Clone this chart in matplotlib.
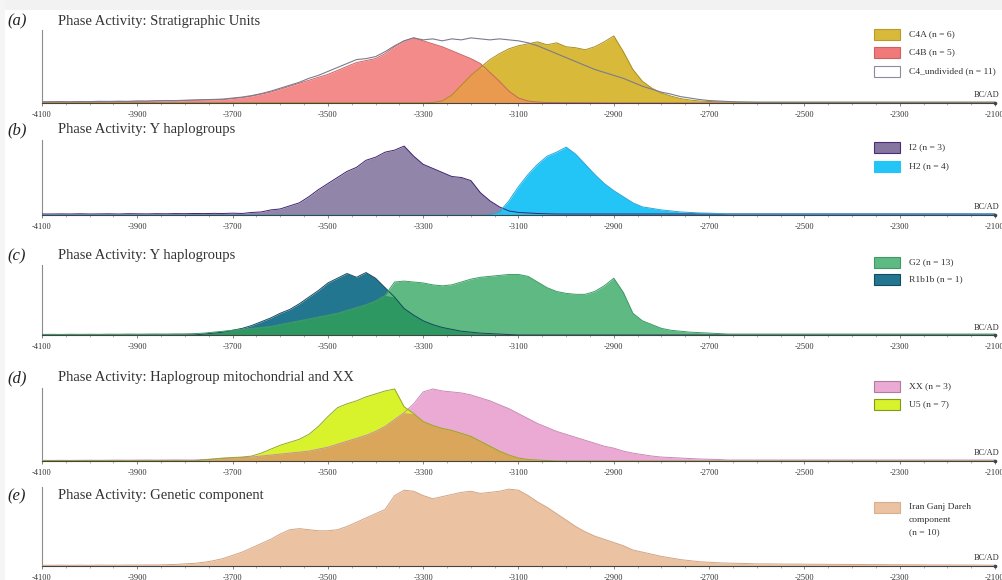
import numpy as np
import matplotlib
matplotlib.use("Agg")
import matplotlib.pyplot as plt
from matplotlib.patches import Rectangle
from matplotlib.ticker import MultipleLocator

plt.rcParams['font.family'] = ['Liberation Serif', 'DejaVu Serif']

# Calendar grid (BC negative), 20-year bins
START_YEAR = -4100
BIN = 20
N_BINS = 101
years = START_YEAR + BIN * np.arange(N_BINS)

tick_years = [-4100, -3900, -3700, -3500, -3300, -3100, -2900, -2700, -2500, -2300, -2100]
tick_labels = ['-4100', '-3900', '-3700', '-3500', '-3300', '-3100', '-2900', '-2700', '-2500', '-2300', '-2100']

# (a) Stratigraphic units
c4a = [0.2] * 41 + [0.5, 2, 8, 18, 28, 36, 44, 50, 55, 58,
                    60, 62, 59, 61, 57, 56, 54, 57, 62, 68,
                    52, 34, 22, 15, 10, 7, 4.5, 3, 2, 1.5,
                    1.2, 1.0] + [0.8] * 28
c4b = [1.0, 1.0, 1.2, 1.0, 1.3, 1.2, 1.5, 1.3, 1.6, 1.5,
       1.8, 1.7, 2.0, 2.2, 2.0, 2.5, 2.8, 3.0, 3.2, 3.5,
       4.5, 5.5, 7, 9, 11, 14, 17, 20, 23, 26,
       29, 33, 37, 41, 43, 45, 50, 57, 63, 66,
       63, 60, 57, 53, 49, 45, 40, 31, 22, 12,
       5, 2, 1, 0.5, 0.4, 0.3, 0.3, 0.2, 0.2, 0.1] + [0.0] * 41
c4_undivided = [1.2, 1.3, 1.4, 1.2, 1.5, 1.4, 1.7, 1.6, 1.8, 1.7,
                2.0, 2.0, 2.3, 2.5, 2.4, 2.8, 3.1, 3.4, 3.6, 4.0,
                5.0, 6.0, 7.5, 9.5, 12, 15, 18, 21, 25, 28,
                32, 36, 40, 44, 45, 47, 52, 58, 63, 66,
                64, 65, 63, 65, 64, 66, 65, 64, 65, 64,
                63, 61, 58, 54, 50, 46, 42, 38, 34, 31,
                28, 25, 21, 17, 14, 11, 9, 6.5, 5, 3.5,
                2.5, 2, 1.5, 1.2, 1.0] + [0.8] * 26

# (b) Y haplogroups I2 / H2
i2 = [1.0, 1.0, 1.1, 1.0, 1.2, 1.0, 1.1, 1.2, 1.0, 1.3,
      1.2, 1.1, 1.3, 1.2, 1.4, 1.3, 1.5, 1.4, 1.6, 1.5,
      1.8, 1.5, 2.5, 3, 5, 6, 9, 12, 18, 25,
      31, 37, 43, 47, 54, 57, 62, 64, 68, 58,
      50, 46, 42, 38, 37, 34, 22, 14, 8, 4,
      2.5, 2, 1.5, 1.2] + [1.0] * 47
h2 = [0.0] * 47 + [0.5, 3, 14, 28, 40, 50, 58, 62, 67, 60,
                   50, 40, 31, 24, 18, 12, 8, 6.5, 5, 4,
                   3, 2.5, 2, 1.8, 1.5] + [1.0] * 29

# (c) Y haplogroups G2 / R1b1b
g2 = [0.6, 0.7, 0.6, 0.8, 0.7, 0.8, 0.7, 0.9, 0.8, 1.0,
      0.9, 1.0, 1.1, 1.0, 1.2, 1.2, 1.5, 2, 3, 4,
      5, 6, 7, 8, 9, 11, 13, 15, 17, 19,
      21, 23, 26, 29, 32, 36, 42, 56, 57, 56,
      55, 53, 52, 53, 56, 59, 61, 62, 63, 64,
      64, 62, 56, 50, 46, 44, 43, 43, 46, 52,
      60, 45, 23, 15, 11, 7, 5, 4, 3, 2.5,
      2, 1.5] + [1.0] * 29
r1b1b = [0.0] * 17 + [1, 2, 3,
                      5, 7, 10, 14, 18, 23, 27, 33, 40, 47,
                      55, 60, 65, 61, 66, 60, 50, 40, 28, 21,
                      15, 11, 8, 6, 4, 3, 2, 1.5, 1, 0.5] + [0.0] * 51

# (d) mitochondrial U5 and XX
xx = [0.6, 0.6, 0.7, 0.6, 0.7, 0.8, 0.7, 0.8, 0.9, 0.8,
      0.9, 1.0, 0.9, 1.0, 1.1, 1.0, 1.0, 1.5, 2, 2.5,
      3, 3.5, 4, 5, 6, 7, 8, 9, 10, 12,
      14, 17, 20, 23, 26, 30, 35, 42, 49, 58,
      70, 73, 71, 70, 69, 67, 64, 61, 57, 53,
      48, 43, 38, 34, 30, 27, 24, 21, 18, 15,
      13, 10, 8, 6.5, 5, 4, 3.5, 3, 2.5, 2,
      1.8, 1.5] + [1.0] * 29
u5 = [0.3] * 17 + [1, 2, 3,
                   3.5, 4, 5, 8, 12, 16, 19, 22, 27, 35,
                   45, 54, 58, 61, 65, 68, 71, 73, 55, 48,
                   40, 36, 33, 31, 28, 25, 20, 15, 10, 6,
                   3, 1.5, 1, 0.5] + [0.0] * 47

# (e) Iran Ganj Dareh genetic component
ganj_dareh = [0.7, 0.7, 0.8, 0.7, 0.8, 0.7, 0.9, 0.8, 0.8, 0.9,
              0.9, 1.0, 1.0, 1.2, 1.5, 2, 2.5, 3.5, 5, 7,
              10, 13, 17, 21, 25, 30, 34, 35, 34, 33,
              33, 34, 37, 41, 45, 49, 53, 66, 71, 70,
              66, 63, 65, 67, 69, 70, 68, 69, 70, 72,
              71, 66, 60, 55, 49, 43, 37, 32, 28, 25,
              22, 19, 15, 13, 11, 9, 7.5, 6, 5, 4,
              3.5, 3, 2.7, 2.5, 2.3, 2, 2, 1.9, 1.8, 1.8,
              1.7, 1.6, 1.6, 1.5, 1.5, 1.4, 1.4, 1.3, 1.3, 1.2,
              1.2, 1.1, 1.1, 1.0, 1.0, 1.0, 0.9, 0.9, 0.9, 0.8, 0.8]

panels = [
    dict(tag='(a)', title='Phase Activity: Stratigraphic Units', top=30, base=103, title_y=21,
         series=[('C4B (n = 5)', c4b, '#f48b8b', '#c86464'),
                 ('C4A (n = 6)', c4a, '#d9b93a', '#a88e1e')],
         overlap='#e99a4e',
         outline=('C4_undivided (n = 11)', c4_undivided, '#7b7b8e'),
         legend=[('C4A (n = 6)', '#d9b93a', '#b89a2a'),
                 ('C4B (n = 5)', '#f07a7a', '#d06060'),
                 ('C4_undivided (n = 11)', 'white', '#8a8aa0')],
         legend_y=[34, 52, 71]),
    dict(tag='(b)', title='Phase Activity: Y haplogroups', top=140, base=215, title_y=130,
         series=[('I2 (n = 3)', i2, '#9186a9', '#3f2170'),
                 ('H2 (n = 4)', h2, '#22c5f5', '#2aa6d8')],
         overlap=None, outline=None,
         legend=[('I2 (n = 3)', '#8576a0', '#4a2c78'),
                 ('H2 (n = 4)', '#22c5f5', '#22c5f5')],
         legend_y=[147, 166]),
    dict(tag='(c)', title='Phase Activity: Y haplogroups', top=265, base=335, title_y=256,
         series=[('R1b1b (n = 1)', r1b1b, '#23768f', '#16495e'),
                 ('G2 (n = 13)', g2, '#5fb983', '#3f9a66')],
         overlap='#2e9862', outline=None,
         legend=[('G2 (n = 13)', '#5fb983', '#3f9a66'),
                 ('R1b1b (n = 1)', '#23768f', '#16495e')],
         legend_y=[262, 279]),
    dict(tag='(d)', title='Phase Activity: Haplogroup mitochondrial and XX', top=388, base=461,
         title_y=378,
         series=[('XX (n = 3)', xx, '#eaaad3', '#c98bb3'),
                 ('U5 (n = 7)', u5, '#d8f22c', '#93a822')],
         overlap='#d9a65c', outline=None,
         legend=[('XX (n = 3)', '#eaaad3', '#b27aa0'),
                 ('U5 (n = 7)', '#d8f22c', '#7e9a18')],
         legend_y=[386, 404]),
    dict(tag='(e)', title='Phase Activity: Genetic component', top=487, base=566, title_y=496,
         series=[('Iran Ganj Dareh component (n = 10)', ganj_dareh, '#ebc3a3', '#d2a585')],
         overlap=None, outline=None,
         legend=[('Iran Ganj Dareh\ncomponent\n(n = 10)', '#ebc3a3', '#d8b090')],
         legend_y=[507]),
]

W, H = 1002, 580
X0, X1 = 42, 995
fig = plt.figure(figsize=(W / 100, H / 100), dpi=100)
fig.patch.set_facecolor('white')

# light frame band along the top and left edges
fig.patches.append(Rectangle((0, 1 - 10 / H), 1, 10 / H, facecolor='#f2f2f2', lw=0,
                             transform=fig.transFigure, figure=fig, zorder=0))
fig.patches.append(Rectangle((0, 0), 5 / W, 1, facecolor='#f5f5f5', lw=0,
                             transform=fig.transFigure, figure=fig, zorder=0))

for p in panels:
    top, base = p['top'], p['base']
    ax = fig.add_axes([X0 / W, 1 - base / H, (X1 - X0) / W, (base - top) / H])
    ax.set_xlim(-4100, -2100)
    ax.set_ylim(0, 74)
    ax.patch.set_alpha(0)

    vals = []
    for name, v, fc, ec in p['series']:
        v = np.asarray(v, dtype=float)
        vals.append(v)
        ax.fill_between(years, 0, v, color=fc, lw=0, zorder=2)
        ax.plot(years, v, color=ec, lw=0.7, zorder=4)
    if p['overlap'] is not None and len(vals) == 2:
        ax.fill_between(years, 0, np.minimum(vals[0], vals[1]), color=p['overlap'], lw=0, zorder=3)
    if p['outline'] is not None:
        name, v, ec = p['outline']
        ax.plot(years, v, color=ec, lw=0.8, zorder=5)

    for s in ('top', 'right'):
        ax.spines[s].set_visible(False)
    ax.spines['left'].set_color('#8c8c8c')
    ax.spines['left'].set_linewidth(0.8)
    ax.spines['bottom'].set_color('#444444')
    ax.spines['bottom'].set_linewidth(0.8)
    ax.spines['bottom'].set_zorder(6)
    ax.set_yticks([])
    ax.set_xticks(tick_years)
    ax.set_xticklabels(tick_labels)
    ax.xaxis.set_minor_locator(MultipleLocator(50))
    ax.tick_params(axis='x', which='major', length=2.5, width=0.5, colors='#555555',
                   labelsize=6, labelcolor='#333333', pad=3.5)
    ax.tick_params(axis='x', which='minor', length=1.5, width=0.4, colors='#777777')
    ax.plot([1.0], [0], marker='o', ms=1.6, color='#444444', transform=ax.transAxes,
            clip_on=False, zorder=7)
    ax.text(1.005, 0.05, 'BC/AD', transform=ax.transAxes, ha='right', va='bottom',
            fontsize=6, color='#333333')

    # panel tag and title
    ty = 1 - p['title_y'] / H
    fig.text(7 / W, ty, p['tag'], fontsize=12, style='italic', ha='left', va='center',
             color='#222222')
    fig.text(58 / W, ty, p['title'], fontsize=10.5, ha='left', va='center', color='#333333')

    # legend
    for (label, fc, ec), yc in zip(p['legend'], p['legend_y']):
        fig.patches.append(Rectangle((874 / W, 1 - (yc + 5.5) / H), 26 / W, 11 / H,
                                     facecolor=fc, edgecolor=ec, lw=0.8,
                                     transform=fig.transFigure, figure=fig))
        lines = label.split('\n')
        for k, line in enumerate(lines):
            fig.text(909 / W, 1 - (yc + 12.5 * k) / H, line, fontsize=6.8,
                     ha='left', va='center', color='#333333')

fig.savefig('out.png', dpi=100, facecolor='white')
